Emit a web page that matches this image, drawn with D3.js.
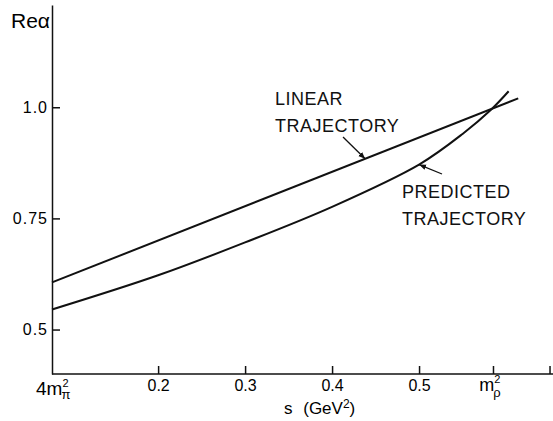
<!DOCTYPE html>
<html>
<head>
<meta charset="utf-8">
<script src="https://cdn.jsdelivr.net/npm/d3@7"></script>
<style>
  body { margin: 0; background: #fff; }
  svg { display: block; font-family: 'Liberation Sans', Arial, sans-serif; }
  .axis path, .axis line { stroke: #111; stroke-width: 1.5; }
</style>
</head>
<body>
<div id="chart"></div>
<script>
// s in GeV^2, Re alpha
var linearS = [0.078, 0.614]
var linearA = [0.606, 1.02]

var predictedS = [0.078, 0.2, 0.3, 0.4, 0.5, 0.55, 0.583, 0.603]
var predictedA = [0.545, 0.622, 0.696, 0.776, 0.871, 0.94, 0.995, 1.036]

var xTicks = [0.2, 0.3, 0.4, 0.5, 0.585, 0.65]
var xTickLabels = ['0.2', '0.3', '0.4', '0.5', 'mrho', '']
var yTicks = [0.5, 0.75, 1.0]
var yTickLabels = ['0.5', '0.75', '1.0']

var w = 553
var h = 421

var x = d3.scaleLinear().domain([0.078, 0.654]).range([52, 553])
var y = d3.scaleLinear().domain([0.4, 1.23]).range([374, 5])

var svg = d3.select('#chart').append('svg')
  .attr('width', w)
  .attr('height', h)

// x axis, ticks pointing up into the plot
var xAxis = d3.axisBottom(x)
  .tickValues(xTicks)
  .tickSize(-8)
  .tickSizeOuter(0)
  .tickPadding(6)
  .tickFormat(function (d, i) { return xTickLabels[i] === 'mrho' ? '' : xTickLabels[i] })

var gx = svg.append('g')
  .attr('class', 'axis')
  .attr('transform', 'translate(0,' + y(0.4) + ')')
  .call(xAxis)
  .attr('font-size', 16)
  .attr('font-family', null)
gx.select('.domain').attr('d', 'M' + x(0.078) + ',0H' + w)

// y axis, ticks pointing right
var yAxis = d3.axisLeft(y)
  .tickValues(yTicks)
  .tickSize(-8)
  .tickSizeOuter(0)
  .tickPadding(4)
  .tickFormat(function (d, i) { return yTickLabels[i] })

svg.append('g')
  .attr('class', 'axis')
  .attr('transform', 'translate(' + x(0.078) + ',0)')
  .call(yAxis)
  .attr('font-size', 16)
  .attr('font-family', null)
  .selectAll('text').attr('letter-spacing', 1)

// special x labels
var mr = svg.append('text')
  .attr('x', x(0.585) - 3)
  .attr('y', 391)
  .attr('text-anchor', 'middle')
  .style('font-size', '18px')
mr.append('tspan').text('m')
mr.append('tspan').attr('font-size', 11).attr('dy', -8).text('2')
mr.append('tspan').attr('font-size', 13).attr('dx', -7).attr('dy', 14).text('ρ')

var fm = svg.append('text')
  .attr('x', 36)
  .attr('y', 395)
  .style('font-size', '19px')
fm.append('tspan').text('4m')
fm.append('tspan').attr('font-size', 11).attr('dy', -8).text('2')
fm.append('tspan').attr('font-size', 13).attr('dx', -7).attr('dy', 12).text('π')

var sl = svg.append('text')
  .attr('x', 284)
  .attr('y', 414)
  .style('font-size', '17px')
  .attr('word-spacing', 6)
sl.append('tspan').text('s (GeV')
sl.append('tspan').attr('font-size', 12).attr('dy', -6).text('2')
sl.append('tspan').attr('dy', 6).text(')')

svg.append('text')
  .attr('x', 11)
  .attr('y', 28)
  .style('font-size', '21px')
  .text('Reα')

// curves
var line = d3.line()
  .x(function (d) { return x(d[0]) })
  .y(function (d) { return y(d[1]) })
  .curve(d3.curveCatmullRom)

svg.append('path')
  .datum(d3.zip(linearS, linearA))
  .attr('d', line)
  .attr('fill', 'none')
  .attr('stroke', '#111')
  .attr('stroke-width', 2)

svg.append('path')
  .datum(d3.zip(predictedS, predictedA))
  .attr('d', line)
  .attr('fill', 'none')
  .attr('stroke', '#111')
  .attr('stroke-width', 2)

// labels with arrows
svg.append('defs').append('marker')
  .attr('id', 'arr')
  .attr('viewBox', '0 0 10 10')
  .attr('refX', 10)
  .attr('refY', 5)
  .attr('markerWidth', 7)
  .attr('markerHeight', 7)
  .attr('markerUnits', 'userSpaceOnUse')
  .attr('orient', 'auto')
  .append('path')
  .attr('d', 'M0,1L10,5L0,9Z')
  .attr('fill', '#111')

function label (lines, lx, ly) {
  var t = svg.append('text')
    .attr('x', lx)
    .attr('y', ly)
    .style('font-size', '18px')
    .attr('fill', '#111')
    .attr('letter-spacing', 0.5)
  lines.forEach(function (s, i) {
    t.append('tspan').attr('x', lx).attr('dy', i ? 27 : 0).text(s)
  })
}

label(['LINEAR', 'TRAJECTORY'], 275, 105)
label(['PREDICTED', 'TRAJECTORY'], 402, 198)

svg.append('line')
  .attr('x1', 343).attr('y1', 137)
  .attr('x2', x(0.438)).attr('y2', y(0.884))
  .attr('stroke', '#111').attr('stroke-width', 1.3)
  .attr('marker-end', 'url(#arr)')

svg.append('line')
  .attr('x1', 442).attr('y1', 174)
  .attr('x2', x(0.5)).attr('y2', y(0.871))
  .attr('stroke', '#111').attr('stroke-width', 1.3)
  .attr('marker-end', 'url(#arr)')
</script>
</body>
</html>
